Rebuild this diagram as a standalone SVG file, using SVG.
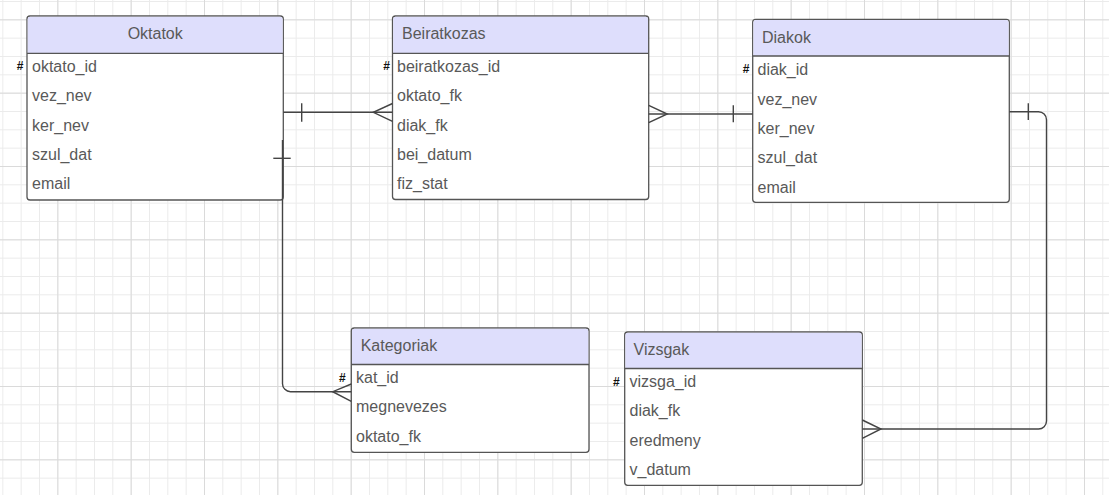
<svg xmlns="http://www.w3.org/2000/svg" width="1109" height="495" viewBox="0 0 1109 495">
<defs>
<pattern id="minor" patternUnits="userSpaceOnUse" x="2.333" y="1" width="18.333" height="18.333">
<path d="M0.5 0 V18.333 M0 0.5 H18.333" fill="none" stroke="#ebebeb" stroke-width="1"/>
</pattern>
<pattern id="major" patternUnits="userSpaceOnUse" x="57.333" y="19.333" width="73.333" height="73.333">
<path d="M0.5 0 V73.333 M0 0.5 H73.333" fill="none" stroke="#dadada" stroke-width="1"/>
</pattern>
</defs>
<style>
.box{fill:#ffffff;stroke:#555555;stroke-width:1.3}
.hdr{fill:#dedefc;stroke:none}
.sep{stroke:#555555;stroke-width:1.3}
.t{font-family:"Liberation Sans",Arial,sans-serif;font-size:16px;fill:#595959}
.pk{font-family:"Liberation Sans",Arial,sans-serif;font-size:12px;font-weight:bold;fill:#111111;text-anchor:middle}
.ln{fill:none;stroke:#444444;stroke-width:1.4}
</style>
<rect width="1109" height="495" fill="#ffffff"/>
<rect width="1109" height="495" fill="url(#minor)"/>
<rect width="1109" height="495" fill="url(#major)"/>

<g id="oktatok">
<rect class="box" x="27" y="16" width="256.3" height="184" rx="3"/>
<path class="hdr" d="M30 16.7 H280.3 A2.3 2.3 0 0 1 282.6 19 V53.3 H27.7 V19 A2.3 2.3 0 0 1 30 16.7 Z"/>
<line class="sep" x1="27" y1="53.3" x2="283.3" y2="53.3"/>
<text class="t" x="155.2" y="39.3" text-anchor="middle">Oktatok</text>
<text class="pk" x="20" y="70">#</text>
<text class="t" x="32" y="72">oktato_id</text>
<text class="t" x="32" y="101.3">vez_nev</text>
<text class="t" x="32" y="130.7">ker_nev</text>
<text class="t" x="32" y="160">szul_dat</text>
<text class="t" x="32" y="189.3">email</text>
</g>

<g id="beiratkozas">
<rect class="box" x="392.5" y="16" width="256.2" height="183.5" rx="3"/>
<path class="hdr" d="M395.5 16.7 H645.7 A2.3 2.3 0 0 1 648 19 V53.3 H393.2 V19 A2.3 2.3 0 0 1 395.5 16.7 Z"/>
<line class="sep" x1="392.5" y1="53.3" x2="648.7" y2="53.3"/>
<text class="t" x="402" y="39.3">Beiratkozas</text>
<text class="pk" x="386.5" y="70">#</text>
<text class="t" x="397" y="72">beiratkozas_id</text>
<text class="t" x="397" y="101.3">oktato_fk</text>
<text class="t" x="397" y="130.7">diak_fk</text>
<text class="t" x="397" y="160">bei_datum</text>
<text class="t" x="397" y="189.3">fiz_stat</text>
</g>

<g id="diakok">
<rect class="box" x="752.7" y="19.3" width="256.6" height="183" rx="3"/>
<path class="hdr" d="M755.7 20 H1006.3 A2.3 2.3 0 0 1 1008.6 22.3 V56 H753.4 V22.3 A2.3 2.3 0 0 1 755.7 20 Z"/>
<line class="sep" x1="752.7" y1="56" x2="1009.3" y2="56"/>
<text class="t" x="762" y="42.6">Diakok</text>
<text class="pk" x="746" y="73.3">#</text>
<text class="t" x="757.5" y="75.3">diak_id</text>
<text class="t" x="757.5" y="104.6">vez_nev</text>
<text class="t" x="757.5" y="134">ker_nev</text>
<text class="t" x="757.5" y="163.3">szul_dat</text>
<text class="t" x="757.5" y="192.6">email</text>
</g>

<g id="kategoriak">
<rect class="box" x="351.3" y="328" width="237.7" height="124.3" rx="3"/>
<path class="hdr" d="M354.3 328.7 H586 A2.3 2.3 0 0 1 588.3 331 V364.5 H352 V331 A2.3 2.3 0 0 1 354.3 328.7 Z"/>
<line class="sep" x1="351.3" y1="364.5" x2="589" y2="364.5"/>
<text class="t" x="360.7" y="351">Kategoriak</text>
<text class="pk" x="342.3" y="381.5">#</text>
<text class="t" x="356" y="383">kat_id</text>
<text class="t" x="356" y="412.3">megnevezes</text>
<text class="t" x="356" y="441.6">oktato_fk</text>
</g>

<g id="vizsgak">
<rect class="box" x="624.7" y="332" width="237.6" height="153.3" rx="3"/>
<path class="hdr" d="M627.7 332.7 H859.3 A2.3 2.3 0 0 1 861.6 335 V368.5 H625.4 V335 A2.3 2.3 0 0 1 627.7 332.7 Z"/>
<line class="sep" x1="624.7" y1="368.5" x2="862.3" y2="368.5"/>
<text class="t" x="633.5" y="355">Vizsgak</text>
<text class="pk" x="616.3" y="386">#</text>
<text class="t" x="629.5" y="387">vizsga_id</text>
<text class="t" x="629.5" y="416.3">diak_fk</text>
<text class="t" x="629.5" y="445.6">eredmeny</text>
<text class="t" x="629.5" y="475">v_datum</text>
</g>

<g id="connectors">
<path class="ln" d="M283.3 112.3 H392.5"/>
<path class="ln" d="M301.7 103.3 V121.7"/>
<path class="ln" d="M392.5 103.5 L373.3 112.3 L392.5 121.3"/>
<path class="ln" d="M648.7 114 H752.7"/>
<path class="ln" d="M648.7 105.3 L667.3 114 L648.7 122.7"/>
<path class="ln" d="M733.3 105.3 V122.3"/>
<path class="ln" d="M1009.3 111.7 H1038.5 A8 8 0 0 1 1046.5 119.7 V421 A8 8 0 0 1 1038.5 429 H862.3"/>
<path class="ln" d="M1028.3 103.3 V120"/>
<path class="ln" d="M862.3 420 L881 429 L862.3 438.3"/>
<path class="ln" d="M282.5 140 V383.7 A8 8 0 0 0 290.5 391.7 H351.3"/>
<path class="ln" d="M273.3 158.3 H290.7"/>
<path class="ln" d="M351.3 384 L332.7 391.7 L351.3 401.3"/>
</g>
</svg>
